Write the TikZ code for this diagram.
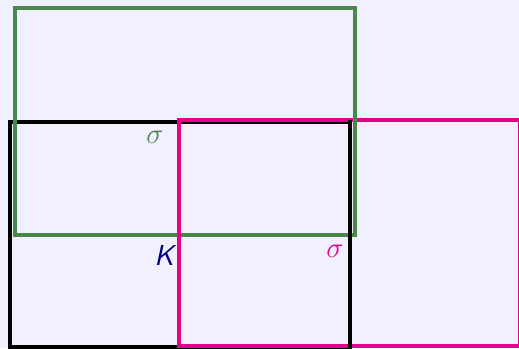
\documentclass[tikz,border=0pt]{standalone}
\usepackage{xcolor}
\usepackage{tikz}
\definecolor{paleBack}{HTML}{F0F0FF}
\definecolor{leafGreen}{HTML}{4A874A}
\definecolor{hotPink}{HTML}{E6008C}
\definecolor{deepNavy}{HTML}{000080}
\tikzset{
  frame/.style = {line width=1.7pt, line cap=rect},
  tag/.style   = {font=\Large, inner sep=0pt}
}

\begin{document}
\begin{tikzpicture}[x=0.5pt, y=-0.5pt]
  \fill[paleBack] (0,0) rectangle (519,348);
  \useasboundingbox (0,0) rectangle (519,348);
  \clip (0,0) rectangle (519,348);

  % horizontal sides first
  \draw[frame, black] (10,122) -- (350,122) (10,347) -- (350,347);
  \draw[frame, hotPink] (179,120) -- (519,120) (179,346) -- (519,346);
  \draw[frame, leafGreen] (15,8) -- (355,8) (15,235) -- (355,235);
  % then vertical sides
  \draw[frame, black] (10,122) -- (10,347) (350,122) -- (350,347);
  \draw[frame, hotPink] (179,120) -- (179,346) (520,120) -- (520,346);
  \draw[frame, leafGreen] (15,8) -- (15,235) (355,8) -- (355,235);

  % labels
  \node[tag, text=leafGreen] (sgreen) at (155,137) {$\sigma$};
  \node[tag, text=deepNavy] (kset) at (164,256) {\sffamily\itshape K};
  \node[tag, text=hotPink] (spink) at (335,251) {$\sigma$};
\end{tikzpicture}
\end{document}
